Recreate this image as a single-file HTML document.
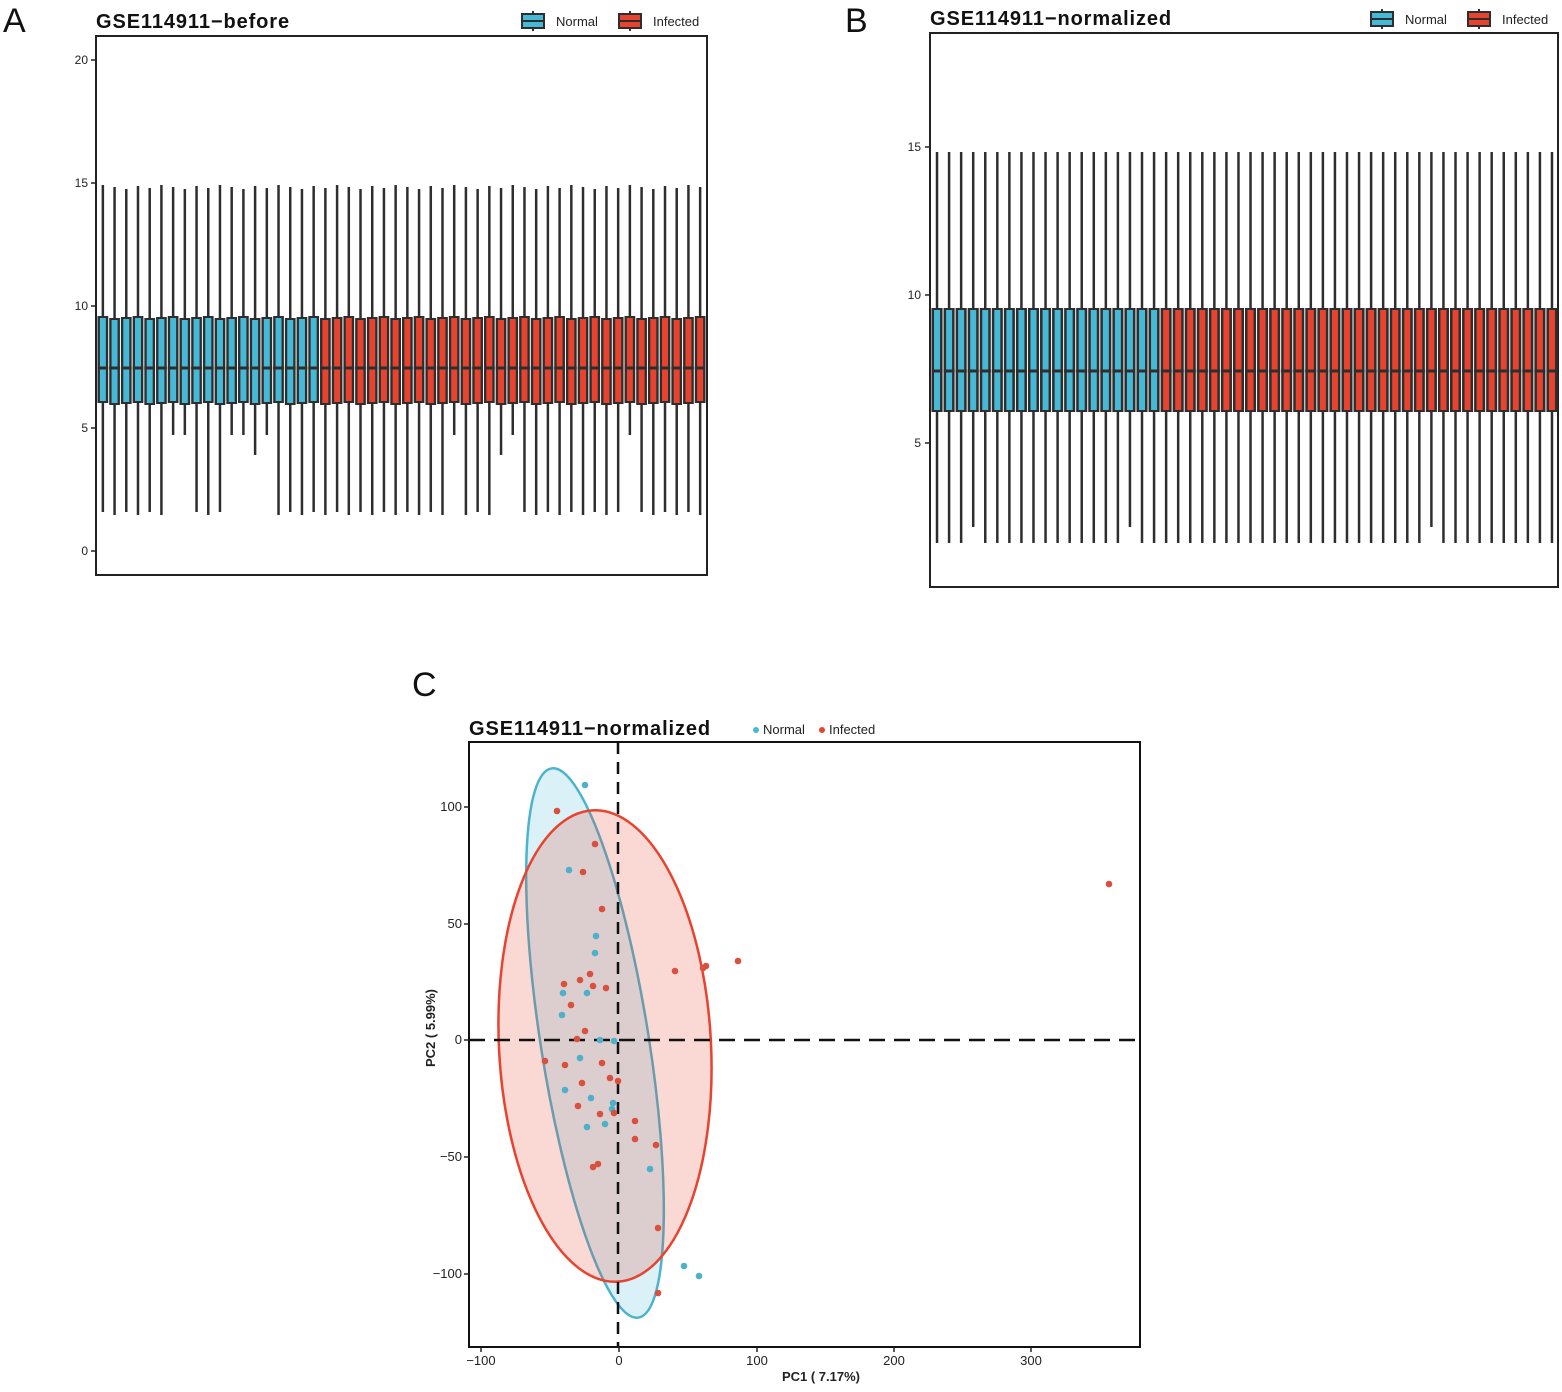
<!DOCTYPE html>
<html><head><meta charset="utf-8"><style>
body{margin:0;background:#fff;}
svg text{font-family:"Liberation Sans",Arial,sans-serif;}
</style></head><body>
<svg id="s" width="1562" height="1387" viewBox="0 0 1562 1387" xmlns="http://www.w3.org/2000/svg">
<rect width="1562" height="1387" fill="#fff"/>
<text x="3" y="32" font-size="34" fill="#111">A</text>
<text x="845" y="32" font-size="34" fill="#111">B</text>
<text x="412" y="696" font-size="34" fill="#111">C</text>
<text x="96" y="28" font-size="20" font-weight="bold" letter-spacing="0.9" fill="#111">GSE114911−before</text>
<text x="930" y="25" font-size="20" font-weight="bold" letter-spacing="0.9" fill="#111">GSE114911−normalized</text>
<text x="469" y="735" font-size="20" font-weight="bold" letter-spacing="0.9" fill="#111">GSE114911−normalized</text>
<g id="g"></g>
</svg>
<script>
var g=document.getElementById('g'),h='';
var B='#45b9d5',R='#e8432e',D='#2e2e2e';
function legend(x,y){
 [[x,B,'Normal'],[x+97,R,'Infected']].forEach(function(a){
  h+='<line x1="'+(a[0]+11)+'" y1="'+(y-10)+'" x2="'+(a[0]+11)+'" y2="'+(y+10)+'" stroke="'+D+'" stroke-width="2"/>';
  h+='<rect x="'+a[0]+'" y="'+(y-7)+'" width="22" height="14" fill="'+a[1]+'" stroke="'+D+'" stroke-width="2"/>';
  h+='<line x1="'+a[0]+'" y1="'+y+'" x2="'+(a[0]+22)+'" y2="'+y+'" stroke="'+D+'" stroke-width="2"/>';
  h+='<text x="'+(a[0]+34)+'" y="'+(y+5)+'" font-size="13" fill="#222">'+a[2]+'</text>';
 });
}
legend(522,21);legend(1371,19);
// Panel A
h+='<rect x="96" y="36" width="611" height="539" fill="none" stroke="#222" stroke-width="2"/>';
[[20,60],[15,183],[10,306],[5,428],[0,551]].forEach(function(t){
 h+='<line x1="91" y1="'+t[1]+'" x2="96" y2="'+t[1]+'" stroke="#222" stroke-width="1.5"/>';
 h+='<text x="88" y="'+(t[1]+4)+'" font-size="12" text-anchor="end" fill="#222">'+t[0]+'</text>';
});
var shortA={6:435,7:435,11:435,12:435,13:455,14:435,30:435,34:455,35:435,45:435};
var p=609/52;
for(var i=0;i<52;i++){
 var cx=97+p*(i+0.5),col=i<19?B:R;
 var wt=185+((i*7)%5),wb=shortA[i]||(512+((i*3)%6));
 var q3=317+((i*5)%3)-1,q1=403+((i*2)%3);
 h+='<line x1="'+cx+'" y1="'+wt+'" x2="'+cx+'" y2="'+wb+'" stroke="'+D+'" stroke-width="2.5"/>';
 h+='<rect x="'+(cx-p/2+0.5)+'" y="'+q3+'" width="'+(p-1)+'" height="'+(q1-q3)+'" fill="'+D+'"/>';
 h+='<rect x="'+(cx-3)+'" y="'+(q3+2)+'" width="6" height="'+(q1-q3-4)+'" fill="'+col+'"/>';
 h+='<line x1="'+(cx-p/2+0.5)+'" y1="368" x2="'+(cx+p/2-0.5)+'" y2="368" stroke="'+D+'" stroke-width="3"/>';
}
// Panel B
h+='<rect x="930" y="33" width="628" height="554" fill="none" stroke="#222" stroke-width="2"/>';
[[15,147],[10,295],[5,443]].forEach(function(t){
 h+='<line x1="925" y1="'+t[1]+'" x2="930" y2="'+t[1]+'" stroke="#222" stroke-width="1.5"/>';
 h+='<text x="921" y="'+(t[1]+4)+'" font-size="12" text-anchor="end" fill="#222">'+t[0]+'</text>';
});
var pb=627/52,shortB={3:527,16:527,41:527};
for(var i=0;i<52;i++){
 var cx=931+pb*(i+0.5),col=i<19?B:R;
 var wb=shortB[i]||543;
 h+='<line x1="'+cx+'" y1="152" x2="'+cx+'" y2="'+wb+'" stroke="'+D+'" stroke-width="2.5"/>';
 h+='<rect x="'+(cx-pb/2+0.5)+'" y="308" width="'+(pb-1)+'" height="104" fill="'+D+'"/>';
 h+='<rect x="'+(cx-3)+'" y="310" width="6" height="100" fill="'+col+'"/>';
 h+='<line x1="'+(cx-pb/2+0.5)+'" y1="371" x2="'+(cx+pb/2-0.5)+'" y2="371" stroke="'+D+'" stroke-width="3"/>';
}
// Panel C
h+='<circle cx="756" cy="730" r="3" fill="'+B+'"/><text x="763" y="734" font-size="13" fill="#222">Normal</text>';
h+='<circle cx="822" cy="730" r="3" fill="'+R+'"/><text x="829" y="734" font-size="13" fill="#222">Infected</text>';
h+='<ellipse cx="595" cy="1043" rx="54" ry="278" transform="rotate(-9 595 1043)" fill="rgba(69,185,213,0.2)" stroke="#4bb3cf" stroke-width="2.5"/>';
h+='<ellipse cx="605" cy="1046" rx="106" ry="236" transform="rotate(-3 605 1046)" fill="rgba(232,67,46,0.2)" stroke="#e8432e" stroke-width="2.5"/>';
h+='<line x1="618" y1="742" x2="618" y2="1347" stroke="#111" stroke-width="2.5" stroke-dasharray="12,8"/>';
h+='<line x1="469" y1="1040" x2="1140" y2="1040" stroke="#111" stroke-width="2.5" stroke-dasharray="16,9"/>';
var nb=[[585,785],[569,870],[596,936],[595,953],[563,993],[587,993],[562,1015],[600,1040],[580,1058],[565,1090],[591,1098],[587,1127],[605,1124],[613,1103],[612,1109],[650,1169],[684,1266],[699,1276],[614,1041]];
var nr=[[557,811],[595,844],[583,872],[602,909],[675,971],[703,968],[706,966],[738,961],[1109,884],[564,984],[580,980],[590,974],[593,986],[606,988],[585,1031],[577,1039],[545,1061],[565,1065],[602,1063],[610,1078],[618,1081],[582,1083],[578,1106],[600,1114],[614,1113],[635,1121],[635,1139],[656,1145],[593,1167],[598,1164],[658,1228],[658,1293],[571,1005]];
nb.forEach(function(q){h+='<circle cx="'+q[0]+'" cy="'+q[1]+'" r="3.3" fill="#4fb0cc"/>';});
nr.forEach(function(q){h+='<circle cx="'+q[0]+'" cy="'+q[1]+'" r="3.3" fill="#d9503f"/>';});
h+='<rect x="469" y="742" width="671" height="605" fill="none" stroke="#111" stroke-width="2"/>';
[[100,807],[50,924],[0,1040],[-50,1157],[-100,1274]].forEach(function(t){
 h+='<line x1="464" y1="'+t[1]+'" x2="469" y2="'+t[1]+'" stroke="#222" stroke-width="1.5"/>';
 h+='<text x="462" y="'+(t[1]+4)+'" font-size="13" text-anchor="end" fill="#222">'+(t[0]<0?'−'+(-t[0]):t[0])+'</text>';
});
[[-100,481],[0,619],[100,757],[200,894],[300,1031]].forEach(function(t){
 h+='<line x1="'+t[1]+'" y1="1347" x2="'+t[1]+'" y2="1352" stroke="#222" stroke-width="1.5"/>';
 h+='<text x="'+t[1]+'" y="1365" font-size="13" text-anchor="middle" fill="#222">'+(t[0]<0?'−'+(-t[0]):t[0])+'</text>';
});
h+='<text x="821" y="1381" font-size="13" font-weight="bold" text-anchor="middle" fill="#222">PC1 ( 7.17%)</text>';
h+='<text transform="translate(435 1028) rotate(-90)" font-size="13" font-weight="bold" text-anchor="middle" fill="#222">PC2 ( 5.99%)</text>';
g.innerHTML=h;
</script>
</body></html>
